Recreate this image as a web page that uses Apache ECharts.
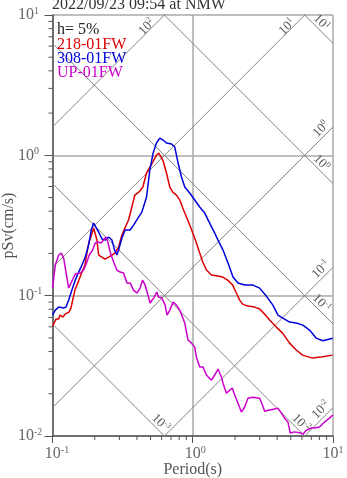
<!DOCTYPE html>
<html><head><meta charset="utf-8">
<script src="https://cdn.jsdelivr.net/npm/echarts@6/dist/echarts.min.js"></script>
<style>html,body{margin:0;padding:0;background:#fff}#c{width:347px;height:478px}</style>
</head><body><div id="c"></div>
<script>
// ---- data: [period (s), pSv (cm/s)] ----
const titleText = '2022/09/23 09:54 at NMW';
const dampingText = 'h= 5%';
const seriesNames = ['218-01FW', '308-01FW', 'UP-01FW'];
const seriesColors = ['#dd0000', '#0000dd', '#cc00cc'];

const psv218 = [[0.100,0.0607],[0.106,0.0681],[0.1107,0.0681],[0.1131,0.0727],[0.1188,0.0704],[0.1227,0.0739],[0.131,0.0764],[0.1354,0.0816],[0.1392,0.093],[0.1446,0.1096],[0.1543,0.1291],[0.1622,0.1473],[0.1703,0.1652],[0.176,0.2012],[0.1819,0.241],[0.1879,0.2617],[0.1964,0.3032],[0.2074,0.249],[0.2133,0.1948],[0.2251,0.1884],[0.2364,0.1823],[0.2512,0.1884],[0.2652,0.1948],[0.2785,0.2012],[0.2959,0.222],[0.3125,0.2703],[0.3281,0.3032],[0.3485,0.3459],[0.368,0.428],[0.3866,0.5212],[0.4195,0.5566],[0.4406,0.5942],[0.4683,0.7478],[0.4943,0.8253],[0.5193,0.896],[0.5516,1.005],[0.5728,1.038],[0.5918,1.005],[0.6115,0.926],[0.6497,0.7478],[0.6862,0.5942],[0.7207,0.5474],[0.7657,0.5212],[0.8083,0.4801],[0.8489,0.4211],[0.902,0.3632],[0.9519,0.3185],[1.0,0.2794],[1.062,0.2371],[1.121,0.2012],[1.178,0.1736],[1.252,0.1523],[1.359,0.1402],[1.506,0.1379],[1.635,0.1357],[1.775,0.1291],[1.926,0.119],[2.046,0.1044],[2.161,0.093],[2.269,0.0871],[2.464,0.0843],[2.762,0.0829],[2.999,0.0803],[3.254,0.0739],[3.532,0.067],[3.941,0.0597],[4.372,0.0541],[4.902,0.0459],[5.472,0.041],[6.066,0.0377],[7.148,0.0359],[8.42,0.0367],[9.92,0.0377]];

const psv308 = [[0.100,0.0727],[0.1047,0.0789],[0.1107,0.0829],[0.1201,0.0816],[0.1248,0.0829],[0.1304,0.093],[0.1376,0.1096],[0.1453,0.1291],[0.1536,0.1473],[0.1622,0.1652],[0.1712,0.1884],[0.181,0.2294],[0.1889,0.2935],[0.1964,0.3292],[0.2016,0.3292],[0.2133,0.284],[0.2251,0.2532],[0.2376,0.249],[0.2512,0.2617],[0.2652,0.249],[0.2772,0.2113],[0.2877,0.1948],[0.2959,0.2113],[0.3125,0.2573],[0.3297,0.2935],[0.3578,0.2935],[0.3783,0.3185],[0.4108,0.3632],[0.4335,0.3944],[0.4429,0.4211],[0.4683,0.5044],[0.4943,0.7855],[0.5218,1.038],[0.5516,1.224],[0.5822,1.328],[0.6146,1.285],[0.6497,1.224],[0.7054,1.204],[0.7444,1.146],[0.786,0.8813],[0.831,0.7003],[0.8772,0.5942],[0.9519,0.5385],[1.033,0.4801],[1.121,0.428],[1.217,0.3879],[1.321,0.3292],[1.434,0.2794],[1.514,0.249],[1.643,0.2113],[1.784,0.1707],[1.936,0.1357],[2.101,0.123],[2.345,0.119],[2.687,0.119],[2.999,0.1132],[3.346,0.0993],[3.729,0.0857],[4.047,0.0727],[4.392,0.0692],[4.902,0.0648],[5.472,0.0638],[6.095,0.0617],[6.803,0.0569],[7.595,0.0498],[8.463,0.0477],[9.97,0.0498]];

const psvUP = [[0.100,0.1133],[0.1047,0.1652],[0.1107,0.1948],[0.1155,0.2012],[0.1201,0.1853],[0.1248,0.1473],[0.1304,0.1133],[0.1376,0.1271],[0.1453,0.1426],[0.1577,0.1449],[0.1668,0.1523],[0.1712,0.1626],[0.176,0.1736],[0.1827,0.1948],[0.1932,0.2113],[0.2016,0.2371],[0.2108,0.241],[0.2225,0.2371],[0.2314,0.249],[0.2402,0.2617],[0.2483,0.241],[0.2578,0.2046],[0.2727,0.1736],[0.2877,0.1523],[0.3039,0.1473],[0.3212,0.1449],[0.3391,0.123],[0.3578,0.123],[0.3783,0.1096],[0.3995,0.1044],[0.4216,0.1133],[0.4385,0.1291],[0.4574,0.119],[0.4838,0.0977],[0.4966,0.0886],[0.5252,0.0961],[0.5545,0.1061],[0.57,0.0977],[0.6017,0.0961],[0.6352,0.0857],[0.6562,0.0727],[0.6862,0.0789],[0.7244,0.09],[0.7657,0.0857],[0.8083,0.0789],[0.831,0.0789],[0.8772,0.0638],[0.9259,0.0483],[0.9788,0.0459],[1.033,0.043],[1.062,0.0365],[1.121,0.031],[1.184,0.031],[1.252,0.0272],[1.359,0.025],[1.434,0.0272],[1.514,0.03],[1.6,0.0263],[1.643,0.0238],[1.738,0.0202],[1.834,0.0212],[1.917,0.0219],[1.99,0.0196],[2.101,0.0172],[2.222,0.0148],[2.345,0.0161],[2.475,0.0186],[2.687,0.0189],[2.999,0.0186],[3.165,0.0163],[3.254,0.015],[3.532,0.0153],[3.833,0.0156],[4.047,0.0158],[4.278,0.0146],[4.518,0.0134],[4.768,0.0126],[4.96,0.0105],[5.321,0.0107],[5.874,0.0105],[6.095,0.0103],[6.446,0.011],[6.997,0.0114],[7.385,0.0114],[8.016,0.0116],[8.701,0.0126],[9.443,0.0134],[9.97,0.0141]];

// tripartite levels
const accelLevels = [0.01, 0.1, 1, 10, 100];      // pSv = A*T/(2*pi)
const dispLevels = [0.001, 0.01, 0.1, 1, 10];     // pSv = 2*pi*D/T
const xRange = [0.1, 10];
const yRange = [0.01, 10];
const xMinorTicks = [0.2,0.3,0.4,0.5,0.6,0.7,0.8,0.9,2,3,4,5,6,7,8,9];
const yMinorTicks = [0.02,0.03,0.04,0.05,0.06,0.07,0.08,0.09,0.2,0.3,0.4,0.5,0.6,0.7,0.8,0.9,2,3,4,5,6,7,8,9];

// ---- build ----
const SERIF = 'Liberation Serif';
const TWO_PI = 2 * Math.PI;
const expText = v => String(Math.round(Math.log10(v)));
const supRich = (size, color) => ({
  b: {fontSize: size, fontFamily: SERIF, color: color, lineHeight: size + 2},
  s: {fontSize: Math.round(size * 0.62), fontFamily: SERIF, color: color, verticalAlign: 'top', lineHeight: Math.round(size*0.62)},
  sp5: {width: 5}, sp9: {width: 9}
});

const diagSeries = [];
const diagLabels = [];
accelLevels.forEach(A => {
  diagSeries.push({type: 'line', data: xRange.map(t => [t, A * t / TWO_PI]), symbol: 'none', silent: true, clip: true,
    lineStyle: {color: '#858585', width: 1}, z: 1});
  let tEnd = Math.min(xRange[1], TWO_PI * yRange[1] / A);
  diagLabels.push({t: tEnd, v: A * tEnd / TWO_PI, kind: 'acc', edge: tEnd >= xRange[1] ? 'right' : 'top', txt: expText(A)});
});
dispLevels.forEach(D => {
  diagSeries.push({type: 'line', data: xRange.map(t => [t, TWO_PI * D / t]), symbol: 'none', silent: true, clip: true,
    lineStyle: {color: '#858585', width: 1}, z: 1});
  let tEnd = Math.min(xRange[1], TWO_PI * D / yRange[0]);
  diagLabels.push({t: tEnd, v: TWO_PI * D / tEnd, kind: 'disp', edge: tEnd >= xRange[1] ? 'right' : 'bottom', txt: expText(D)});
});

const labelRich = supRich(13, '#555');
const S = Math.SQRT1_2;
const labelSeries = {
  type: 'custom', silent: true, z: 3, clip: false,
  data: diagLabels.map(L => [L.t, L.v]),
  renderItem: function (params, api) {
    const L = diagLabels[params.dataIndex];
    const p = api.coord([api.value(0), api.value(1)]);
    let dx, dy, rot;
    if (L.kind === 'acc') {
      const a = L.edge === 'right' ? 10 : 21, q = L.edge === 'right' ? 7 : 4;
      dx = (-a - q) * S; dy = (a - q) * S; rot = Math.PI / 4;
    } else {
      const a = L.edge === 'right' ? 23 : 12, q = 6.5;
      dx = (-a + q) * S; dy = (-a - q) * S; rot = -Math.PI / 4;
    }
    return {type: 'text', x: p[0] + dx, y: p[1] + dy, rotation: rot,
      style: {text: '{b|10}{s|' + L.txt + '}', rich: labelRich, align: 'center', verticalAlign: 'middle', fill: '#555'}};
  }
};

const minorTickSeries = [
  {type: 'custom', silent: true, clip: false, z: 4,
   data: xMinorTicks.map(t => [t, yRange[0]]),
   renderItem: (params, api) => { const p = api.coord([api.value(0), api.value(1)]);
     return {type: 'line', shape: {x1: p[0], y1: p[1], x2: p[0], y2: p[1] + 4}, style: {stroke: '#555', lineWidth: 1}}; }},
  {type: 'custom', silent: true, clip: false, z: 4,
   data: yMinorTicks.map(v => [xRange[0], v]),
   renderItem: (params, api) => { const p = api.coord([api.value(0), api.value(1)]);
     return {type: 'line', shape: {x1: p[0] - 4, y1: p[1], x2: p[0], y2: p[1]}, style: {stroke: '#555', lineWidth: 1}}; }}
];

const curves = [psv218, psv308, psvUP].map((d, i) => ({
  type: 'line', name: seriesNames[i], data: d, symbol: 'none', clip: true, z: 5 + i,
  lineStyle: {color: seriesColors[i], width: 1.5}
}));

const axisRich = supRich(16, '#666');
const chart = echarts.init(document.getElementById('c'), null, {renderer: 'canvas'});
chart.setOption({
  animation: false,
  backgroundColor: '#fff',
  grid: {left: 52.5, right: 14, top: 15, bottom: 42, containLabel: false, outerBoundsMode: 'none'},
  xAxis: {
    type: 'log', logBase: 10, min: xRange[0], max: xRange[1],
    name: 'Period(s)', nameLocation: 'middle', nameGap: 26, nameMoveOverlap: false,
    nameTextStyle: {fontFamily: SERIF, fontSize: 16, color: '#555'},
    axisLine: {lineStyle: {color: '#555', width: 1.5}},
    axisTick: {length: 7, lineStyle: {color: '#555'}},
    splitLine: {show: true, lineStyle: {color: '#aaa', width: 1.5}},
    axisLabel: {margin: 9, rich: axisRich,
      formatter: v => { const e = expText(v); return (v >= xRange[1] ? '' : (e.length > 1 ? '{sp9|}' : '{sp5|}')) + '{b|10}{s|' + e + '}'; }}
  },
  yAxis: {
    type: 'log', logBase: 10, min: yRange[0], max: yRange[1],
    name: 'pSv(cm/s)', nameLocation: 'middle', nameGap: 36, nameRotate: 90, nameMoveOverlap: false,
    nameTextStyle: {fontFamily: SERIF, fontSize: 16, color: '#555'},
    axisLine: {lineStyle: {color: '#555', width: 1.5}},
    axisTick: {length: 8, lineStyle: {color: '#555'}},
    splitLine: {show: true, lineStyle: {color: '#aaa', width: 1.5}},
    axisLabel: {margin: 34.5, align: 'left', rich: axisRich,
      formatter: v => '{b|10}{s|' + expText(v) + '}'}
  },
  graphic: [
    {type: 'text', left: 52, top: -3, style: {text: titleText, font: '16px "Liberation Serif"', fill: '#333'}},
    {type: 'text', x: 57, y: 30, style: {text: dampingText, font: '16px "Liberation Serif"', fill: '#222', verticalAlign: 'middle'}, z: 10},
    {type: 'text', x: 57, y: 44.5, style: {text: seriesNames[0], font: '16px "Liberation Serif"', fill: seriesColors[0], verticalAlign: 'middle'}, z: 10},
    {type: 'text', x: 57, y: 59, style: {text: seriesNames[1], font: '16px "Liberation Serif"', fill: seriesColors[1], verticalAlign: 'middle'}, z: 10},
    {type: 'text', x: 57, y: 73, style: {text: seriesNames[2], font: '16px "Liberation Serif"', fill: seriesColors[2], verticalAlign: 'middle'}, z: 10}
  ],
  series: [...diagSeries, labelSeries, ...minorTickSeries, ...curves]
});
</script></body></html>
